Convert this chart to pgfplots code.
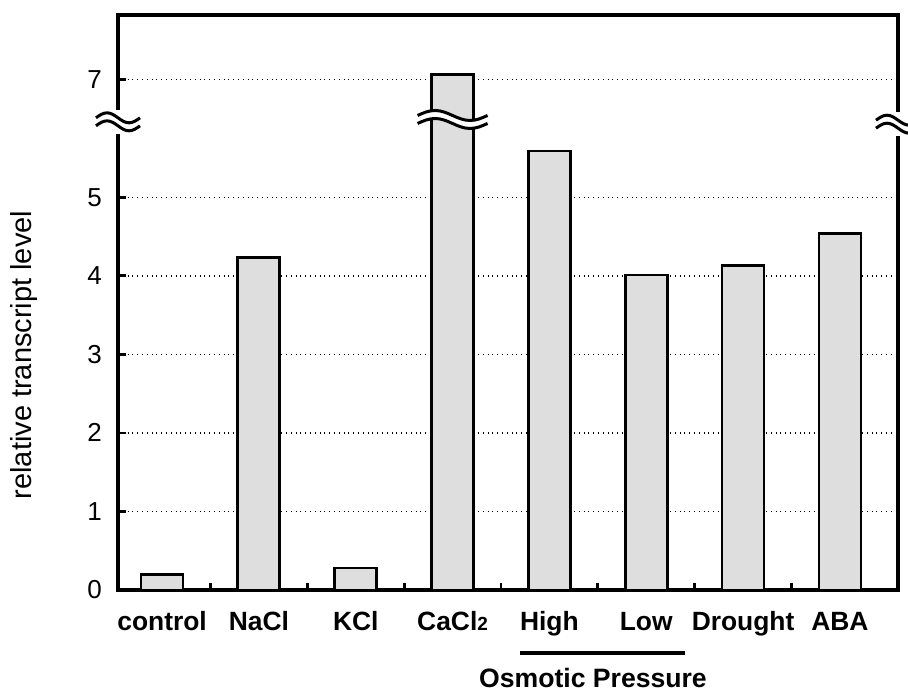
\documentclass[border=0pt]{standalone}
\usepackage{fontspec}
\setmainfont{Liberation Sans}
\usepackage{pgfplots}
\pgfplotsset{compat=1.18}
\newcommand\brk[3]{% coordinate, half width, cover axis?
\begin{scope}[shift={(#1)}]
\fill[white] (-#2,2pt) sin (-#2/2,4.5pt) cos (0,2pt) sin (#2/2,-0.5pt) cos (#2,2pt)
 -- (#2,-2pt) sin (#2/2,-4.5pt) cos (0,-2pt) sin (-#2/2,0.5pt) cos (-#2,-2pt) -- cycle;
\ifnum#3=1 \fill[white] (-2pt,-6pt) rectangle (2pt,6pt);\fi
\draw[line width=1.5pt] (-#2,2pt) sin (-#2/2,4.5pt) cos (0,2pt) sin (#2/2,-0.5pt) cos (#2,2pt);
\draw[line width=1.5pt] (-#2,-2pt) sin (-#2/2,0.5pt) cos (0,-2pt) sin (#2/2,-4.5pt) cos (#2,-2pt);
\end{scope}}
\begin{document}
\begin{tikzpicture}
\useasboundingbox (-59pt,-51.5pt) rectangle (395pt,295pt);
\begin{axis}[
  at={(0,0)}, anchor=south west,
  scale only axis, width=390pt, height=287.5pt,
  xmin=-0.455, xmax=7.6, ymin=0, ymax=7.32,
  ybar, bar width=21pt,
  clip=false,
  axis line style={line width=1.9pt},
  tick pos=left, tick align=inside,
  major tick length=4pt, minor tick length=3.5pt,
  every tick/.append style={line width=1.4pt, black},
  every major x tick/.append style={draw=none},
  xtick={0,1,2,3,4,5,6,7},
  xticklabels={control,NaCl,KCl,{CaCl{\fontsize{9.5}{9}\selectfont 2}},High,Low,Drought,ABA},
  minor xtick={0.5,1.5,2.5,3.5,4.5,5.5,6.5},
  xticklabel style={font=\fontsize{13.2}{14}\selectfont\bfseries, anchor=base, yshift=-20pt},
  ytick={0,1,2,3,4,5,6.5},
  yticklabels={0,1,2,3,4,5,7},
  yticklabel style={font=\fontsize{13}{14}\selectfont, xshift=-4.5pt},
  /pgf/number format/assume math mode=true,
  ymajorgrids,
  major grid style={dotted, line width=0.7pt, black},
  ylabel={relative transcript level},
  ylabel style={at={(axis description cs:-0.1205,0.4087)}, anchor=center, font=\fontsize{14.5}{16}\selectfont},
  y filter/.expression={y>6.5 ? y-0.5 : y},
]
\addplot[fill=black!13, draw=black, line width=1.4pt, bar shift=0pt]
  coordinates {(0,0.20) (1,4.23) (2,0.28) (3,7.06) (4,5.59) (5,4.01) (6,4.13) (7,4.54)};
\coordinate (bl) at (axis cs:-0.455,5.96);
\coordinate (bc) at (axis cs:3,5.99);
\coordinate (br) at (axis cs:7.6,5.93);
\draw[line width=1.9pt] (axis cs:3.70,-0.80) -- (axis cs:5.40,-0.80);
\node[font=\fontsize{13.3}{14}\selectfont\bfseries, anchor=base] at (axis cs:4.45,-1.237) {Osmotic Pressure};
\end{axis}
\brk{bl}{11pt}{1}
\brk{bc}{17.5pt}{0}
\brk{br}{11pt}{1}
\end{tikzpicture}
\end{document}
